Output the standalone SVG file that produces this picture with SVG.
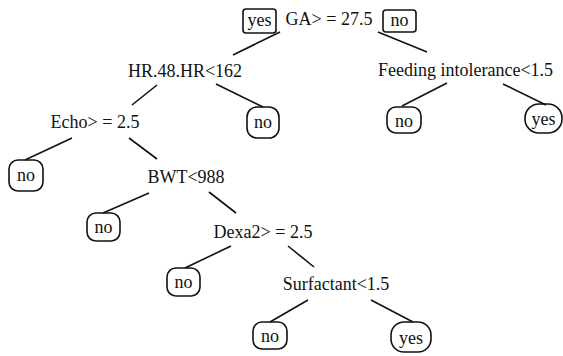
<svg xmlns="http://www.w3.org/2000/svg" width="563" height="356" viewBox="0 0 563 356">
  <style>
    text { font-family: 'Liberation Serif', Tinos, 'Times New Roman', 'DejaVu Serif', serif; font-size: 18px; fill: #111; text-anchor: middle; }
    .leaf { fill: none; stroke: #111; stroke-width: 1.6; }
    .edge { stroke: #111; stroke-width: 1.6; fill: none; }
  </style>
  <rect width="563" height="356" fill="#fff"/>

  <!-- connectors -->
  <g id="edges" class="edge">
    <line x1="280" y1="32" x2="233" y2="55"/>
    <line x1="378" y1="32" x2="427" y2="52"/>
    <line x1="157" y1="85" x2="132" y2="105"/>
    <line x1="216" y1="84" x2="263" y2="107"/>
    <line x1="447" y1="83" x2="402" y2="106"/>
    <line x1="503" y1="84" x2="546" y2="105"/>
    <line x1="72" y1="138" x2="25" y2="160"/>
    <line x1="129" y1="138" x2="157" y2="159"/>
    <line x1="149" y1="193" x2="103" y2="213"/>
    <line x1="209" y1="192" x2="236" y2="213"/>
    <line x1="231" y1="246" x2="185" y2="268"/>
    <line x1="288" y1="246" x2="314" y2="267"/>
    <line x1="308" y1="300" x2="270" y2="322"/>
    <line x1="371" y1="300" x2="413" y2="322"/>
  </g>

  <!-- split nodes -->
  <g id="n-ga"><text x="329" y="25">GA&gt; = 27.5</text></g>
  <g id="n-hr"><text x="185" y="77">HR.48.HR&lt;162</text></g>
  <g id="n-feeding"><text x="465.5" y="76">Feeding intolerance&lt;1.5</text></g>
  <g id="n-echo"><text x="95" y="128">Echo&gt; = 2.5</text></g>
  <g id="n-bwt"><text x="186" y="183">BWT&lt;988</text></g>
  <g id="n-dexa"><text x="263" y="238">Dexa2&gt; = 2.5</text></g>
  <g id="n-surf"><text x="336" y="290">Surfactant&lt;1.5</text></g>

  <!-- branch tags on root -->
  <g id="tag-yes"><rect class="leaf" x="243" y="9" width="33" height="24" rx="3"/><text x="259.5" y="26">yes</text></g>
  <g id="tag-no"><rect class="leaf" x="383" y="10" width="33" height="22" rx="3"/><text x="399.5" y="26">no</text></g>

  <!-- leaves -->
  <g id="leaf-hr-no"><rect class="leaf" x="247" y="107" width="32" height="31" rx="10"/><text x="263" y="128">no</text></g>
  <g id="leaf-feed-no"><rect class="leaf" x="387" y="107" width="34" height="26" rx="9"/><text x="404" y="127">no</text></g>
  <g id="leaf-feed-yes"><rect class="leaf" x="525" y="104" width="37" height="29" rx="14"/><text x="543.5" y="125">yes</text></g>
  <g id="leaf-echo-no"><rect class="leaf" x="9" y="160" width="34" height="31" rx="9"/><text x="26" y="181">no</text></g>
  <g id="leaf-bwt-no"><rect class="leaf" x="87" y="213" width="33" height="28" rx="9"/><text x="103.5" y="233">no</text></g>
  <g id="leaf-dexa-no"><rect class="leaf" x="167" y="268" width="33" height="28" rx="9"/><text x="183.5" y="288">no</text></g>
  <g id="leaf-surf-no"><rect class="leaf" x="253" y="322" width="34" height="27" rx="9"/><text x="270" y="342">no</text></g>
  <g id="leaf-surf-yes"><rect class="leaf" x="391" y="322" width="40" height="30" rx="13"/><text x="411" y="344">yes</text></g>
</svg>
